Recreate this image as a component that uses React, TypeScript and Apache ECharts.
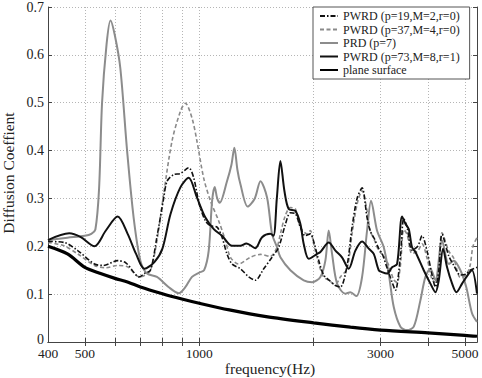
import React, { useEffect, useRef } from "react";
import * as echarts from "echarts";

// Frequencies in Hz, diffusion coefficients per curve
const pwrd19Freq = [400,441,479,530,560,610,642,696,717,744,774,806,823,857,892,938,967,1000,1038,1070,1114,1148,1183,1220,1283,1350,1405,1478,1554,1618,1684,1737,1790,1845,1900,1960,2000,2063,2125,2191,2282,2351,2449,2524,2602,2682,2764,2817,2893,2967,3027,3120,3216,3282,3383,3452,3522,3630,3757,3857,3975,4098,4181,4268,4353,4535,4674,4865,5040,5160,5380];
const pwrd19Vals = [0.21,0.208,0.191,0.163,0.16,0.17,0.165,0.136,0.143,0.15,0.22,0.30,0.336,0.35,0.352,0.364,0.343,0.288,0.253,0.243,0.24,0.219,0.184,0.163,0.153,0.136,0.129,0.153,0.177,0.198,0.245,0.27,0.268,0.24,0.222,0.226,0.21,0.17,0.14,0.13,0.118,0.115,0.16,0.24,0.30,0.322,0.26,0.232,0.215,0.195,0.185,0.155,0.125,0.108,0.18,0.258,0.24,0.192,0.2,0.222,0.19,0.14,0.115,0.15,0.225,0.18,0.16,0.14,0.142,0.15,0.156];

const pwrd37Freq = [400,441,479,530,568,610,648,696,717,744,774,806,848,892,919,957,986,1027,1070,1125,1172,1208,1270,1363,1449,1538,1602,1635,1684,1737,1790,1845,1922,1960,2000,2063,2125,2191,2282,2351,2449,2524,2602,2682,2764,2817,2893,2967,3058,3152,3249,3315,3383,3452,3522,3630,3757,3857,3975,4098,4181,4268,4353,4535,4674,4865,5040,5160,5250,5380];
const pwrd37Vals = [0.208,0.201,0.184,0.16,0.155,0.16,0.157,0.136,0.139,0.15,0.212,0.309,0.42,0.482,0.499,0.468,0.42,0.343,0.295,0.253,0.212,0.177,0.163,0.177,0.183,0.179,0.198,0.226,0.264,0.281,0.278,0.24,0.226,0.233,0.205,0.163,0.136,0.129,0.12,0.136,0.153,0.226,0.288,0.316,0.274,0.233,0.212,0.191,0.18,0.16,0.13,0.125,0.16,0.235,0.225,0.185,0.19,0.205,0.175,0.13,0.125,0.165,0.228,0.19,0.175,0.135,0.14,0.16,0.2,0.218];

const prdFreq = [400,450,500,520,533,545,555,570,584,600,620,646,672,700,729,774,830,883,920,957,1000,1030,1059,1081,1098,1115,1132,1183,1215,1237,1260,1283,1341,1400,1449,1508,1554,1602,1635,1737,1883,1981,2083,2147,2191,2236,2305,2424,2498,2591,2682,2764,2832,2936,3058,3152,3249,3383,3522,3668,3818,3936,4057,4181,4353,4535,4674,4865,5040,5220,5380];
const prdVals = [0.213,0.218,0.222,0.226,0.235,0.32,0.50,0.62,0.672,0.64,0.572,0.399,0.26,0.17,0.143,0.136,0.115,0.102,0.115,0.136,0.145,0.15,0.191,0.295,0.324,0.3,0.291,0.336,0.37,0.406,0.36,0.33,0.283,0.3,0.336,0.302,0.226,0.198,0.177,0.15,0.129,0.125,0.136,0.17,0.233,0.184,0.122,0.101,0.104,0.096,0.136,0.233,0.295,0.233,0.198,0.143,0.073,0.032,0.025,0.032,0.087,0.136,0.153,0.129,0.212,0.163,0.17,0.15,0.115,0.06,0.042];

const pwrd73Freq = [400,455,488,530,568,610,648,682,717,762,800,840,892,938,986,1038,1092,1148,1220,1283,1330,1405,1463,1538,1568,1600,1635,1675,1719,1790,1845,1883,1941,2042,2083,2191,2282,2375,2473,2575,2682,2793,2878,2967,3027,3120,3216,3315,3417,3487,3558,3630,3705,3896,4057,4181,4268,4381,4488,4627,4749,4915,5117,5220,5380];
const pwrd73Vals = [0.213,0.227,0.219,0.2,0.233,0.262,0.226,0.184,0.153,0.167,0.195,0.267,0.323,0.343,0.302,0.26,0.236,0.222,0.201,0.201,0.206,0.196,0.219,0.226,0.222,0.30,0.378,0.316,0.278,0.274,0.247,0.205,0.174,0.184,0.188,0.208,0.191,0.177,0.153,0.191,0.21,0.195,0.184,0.15,0.146,0.143,0.156,0.163,0.262,0.247,0.236,0.198,0.188,0.15,0.122,0.104,0.129,0.195,0.156,0.122,0.104,0.122,0.143,0.15,0.101];

const planeFreq = [400,450,500,550,600,650,700,800,900,1000,1200,1500,2000,2500,3000,4000,5000,5380];
const planeVals = [0.2,0.184,0.156,0.143,0.133,0.125,0.115,0.101,0.09,0.081,0.067,0.053,0.04,0.031,0.025,0.019,0.014,0.012];

// Axis ticks (Hz) and range
const freqMin = 400;
const freqMax = 5380;
const gridFreqs = [500, 600, 700, 800, 900, 1000, 2000, 3000, 4000, 5000];
const labelFreqs = [400, 500, 1000, 3000, 5000];

const SERIF = '"Liberation Serif", "Times New Roman", serif';
const lg = (f: number) => Math.log10(f);
const pairs = (fs: number[], vs: number[]) => fs.map((f, i) => [lg(f), vs[i]]);

export default function App() {
  const ref = useRef<HTMLDivElement>(null);

  useEffect(() => {
    if (!ref.current) return;
    const chart = echarts.init(ref.current, null, { renderer: "svg" });

    const xCommon = {
      type: "value" as const,
      min: lg(freqMin),
      max: lg(freqMax),
      axisLine: { show: true, lineStyle: { color: "#444", width: 1 } },
    };
    const yCommon = {
      type: "value" as const,
      min: 0,
      max: 0.7,
      interval: 0.1,
      axisLine: { show: true, lineStyle: { color: "#444", width: 1 } },
    };
    const gridLine = { show: true, lineStyle: { color: "#b5b5b5", type: [1, 2], width: 1 } };

    chart.setOption({
      animation: false,
      backgroundColor: "#fff",
      grid: { left: 48, right: 5, top: 5, bottom: 36 },
      xAxis: [
        {
          ...xCommon,
          position: "bottom",
          axisTick: {
            show: true,
            inside: true,
            length: 4,
            customValues: gridFreqs.map(lg),
            lineStyle: { color: "#444" },
          },
          axisLabel: {
            customValues: labelFreqs.map(lg),
            formatter: (v: number) => String(Math.round(Math.pow(10, v))),
            fontFamily: SERIF,
            fontSize: 13.5,
            lineHeight: 11,
            color: "#222",
            margin: 6,
          },
          splitLine: gridLine,
        },
        {
          ...xCommon,
          position: "top",
          axisTick: {
            show: true,
            inside: true,
            length: 4,
            customValues: gridFreqs.map(lg),
            lineStyle: { color: "#444" },
          },
          axisLabel: { show: false },
          splitLine: { show: false },
        },
      ],
      yAxis: [
        {
          ...yCommon,
          position: "left",
          axisTick: { show: true, inside: true, length: 4, lineStyle: { color: "#444" } },
          axisLabel: {
            // the zero label sits a little higher so it clears the frequency labels
            formatter: (v: number) => (v === 0 ? "{z|0}" : v.toFixed(1)),
            fontFamily: SERIF,
            fontSize: 14,
            lineHeight: 11,
            color: "#222",
            margin: 4,
            rich: {
              z: {
                fontFamily: SERIF,
                fontSize: 14,
                lineHeight: 11,
                color: "#222",
                padding: [0, 0, 6, 0],
              },
            },
          },
          splitLine: gridLine,
        },
        {
          ...yCommon,
          position: "right",
          axisTick: { show: true, inside: true, length: 4, lineStyle: { color: "#444" } },
          axisLabel: { show: false },
          splitLine: { show: false },
        },
      ],
      legend: {
        orient: "vertical",
        left: 313,
        top: 7,
        itemWidth: 18,
        itemHeight: 12,
        itemGap: 1.5,
        padding: [3, 10, 3, 6],
        backgroundColor: "#fff",
        borderColor: "#555",
        borderWidth: 1,
        borderRadius: 0,
        itemStyle: { opacity: 0 },
        textStyle: { fontFamily: SERIF, fontSize: 12, color: "#222" },
        data: [
          "PWRD (p=19,M=2,r=0)",
          "PWRD (p=37,M=4,r=0)",
          "PRD (p=7)",
          "PWRD (p=73,M=8,r=1)",
          "plane surface",
        ],
      },
      graphic: [
        {
          type: "text",
          x: 270,
          y: 368,
          style: {
            text: "frequency(Hz)",
            fontFamily: SERIF,
            fontSize: 15.5,
            fill: "#222",
            align: "center",
            verticalAlign: "middle",
          },
        },
        {
          type: "text",
          x: 8,
          y: 173,
          rotation: Math.PI / 2,
          style: {
            text: "Diffusion Coeffient",
            fontFamily: SERIF,
            fontSize: 15.5,
            fill: "#222",
            align: "center",
            verticalAlign: "middle",
          },
        },
      ],
      series: [
        {
          name: "PWRD (p=19,M=2,r=0)",
          type: "line",
          symbol: "none",
          smooth: 0.3,
          data: pairs(pwrd19Freq, pwrd19Vals),
          lineStyle: { color: "#111", width: 1.6, type: [5, 2, 1.5, 2] },
          itemStyle: { color: "#111" },
          z: 3,
        },
        {
          name: "PWRD (p=37,M=4,r=0)",
          type: "line",
          symbol: "none",
          smooth: 0.3,
          data: pairs(pwrd37Freq, pwrd37Vals),
          lineStyle: { color: "#8a8a8a", width: 1.6, type: [4, 2.5] },
          itemStyle: { color: "#8a8a8a" },
          z: 2,
        },
        {
          name: "PRD (p=7)",
          type: "line",
          symbol: "none",
          smooth: 0.3,
          data: pairs(prdFreq, prdVals),
          lineStyle: { color: "#8c8c8c", width: 2 },
          itemStyle: { color: "#8c8c8c" },
          z: 2,
        },
        {
          name: "PWRD (p=73,M=8,r=1)",
          type: "line",
          symbol: "none",
          smooth: 0.3,
          data: pairs(pwrd73Freq, pwrd73Vals),
          lineStyle: { color: "#111", width: 2 },
          itemStyle: { color: "#111" },
          z: 4,
        },
        {
          name: "plane surface",
          type: "line",
          symbol: "none",
          smooth: 0.3,
          data: pairs(planeFreq, planeVals),
          lineStyle: { color: "#000", width: 3.2 },
          itemStyle: { color: "#000" },
          z: 4,
        },
      ],
    });

    return () => chart.dispose();
  }, []);

  return <div ref={ref} style={{ width: 482, height: 378, position: "absolute", left: 0, top: 0 }} />;
}
